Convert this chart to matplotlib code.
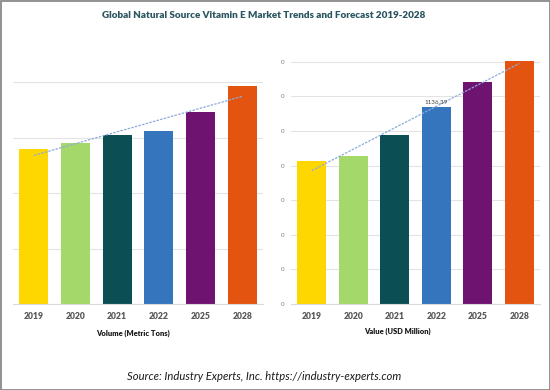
import matplotlib
matplotlib.use("Agg")
import matplotlib.pyplot as plt
import numpy as np
from matplotlib.patches import Rectangle

plt.rcParams["font.family"] = ["Lato", "DejaVu Sans"]

years = ["2019", "2020", "2021", "2022", "2025", "2028"]
volume = [5580, 5800, 6100, 6240, 6920, 7860]
value = [827, 855, 977, 1136.39, 1283, 1405]
value_label_idx = 3
value_label_text = "1136.39"
colors = ["#FFD700", "#A5D86B", "#0B4F55", "#3575BE", "#6E1470", "#E35411"]
title = "Global Natural Source Vitamin E Market Trends and Forecast 2019-2028"
xlabel_left = "Volume (Metric Tons)"
xlabel_right = "Value (USD Million)"
source = "Source: Industry Experts, Inc. https://industry-experts.com"

fig = plt.figure(figsize=(5.5, 3.9), dpi=100)
W, H = 550, 390

def ax_rect(x0, x1, ytop, ybot):
    return [x0 / W, (H - ybot) / H, (x1 - x0) / W, (ybot - ytop) / H]

axL = fig.add_axes(ax_rect(13, 263, 82, 304))
axR = fig.add_axes(ax_rect(291, 540, 60.1, 304))

def style(ax, data, ylim, step, show_labels):
    x = np.arange(len(data))
    ax.bar(x, data, width=0.69, color=colors, zorder=2)
    coef = np.polyfit(x, data, 1)
    ax.plot([x[0], x[-1]], np.polyval(coef, [x[0], x[-1]]), color="#8FAADC",
            lw=0.9, linestyle=(0, (2, 1)), zorder=3)
    ax.set_xlim(-0.5, len(data) - 0.5)
    ax.set_ylim(0, ylim)
    ax.set_yticks(np.arange(0, ylim + 1, step))
    ax.grid(axis="y", color="#E3E3E3", lw=0.8, zorder=0)
    ax.set_axisbelow(True)
    for s in ["top", "right", "left"]:
        ax.spines[s].set_visible(False)
    ax.spines["bottom"].set_color("#D9D9D9")
    ax.set_xticks(x)
    ax.set_xticklabels(years, fontsize=6.2, fontweight="heavy", color="#595959")
    ax.tick_params(axis="x", length=0, pad=6)
    if show_labels:
        ax.set_yticklabels(["0"] * len(ax.get_yticks()), fontsize=4.5, color="#7F7F7F")
        ax.tick_params(axis="y", length=0, pad=5)
    else:
        ax.set_yticklabels([])
        ax.tick_params(axis="y", length=0)

style(axL, volume, 8000, 2000, False)
style(axR, value, 1410, 200, True)

axR.text(value_label_idx, value[value_label_idx] + 15, value_label_text,
         ha="center", va="bottom", fontsize=4.5, color="#404040")

fig.text(133 / W, 1 - 333 / H, xlabel_left, ha="center", va="center",
         fontsize=5.4, fontweight="heavy", color="#1a1a1a")
fig.text(397 / W, 1 - 331 / H, xlabel_right, ha="center", va="center",
         fontsize=5.4, fontweight="heavy", color="#1a1a1a")
fig.text(264 / W, 1 - 15 / H, title, ha="center", va="center",
         fontsize=7.1, fontweight="heavy", color="#2B5560")
fig.text(264 / W, 1 - 376 / H, source, ha="center", va="center",
         fontsize=8.1, style="italic", color="#1a1a1a")

fig.add_artist(Rectangle((0.5 / W, 0.5 / H), 1 - 1 / W, 1 - 1 / H, transform=fig.transFigure,
                         fill=False, edgecolor="#7F7F7F", lw=1.2))

fig.savefig("out.png", dpi=100)
